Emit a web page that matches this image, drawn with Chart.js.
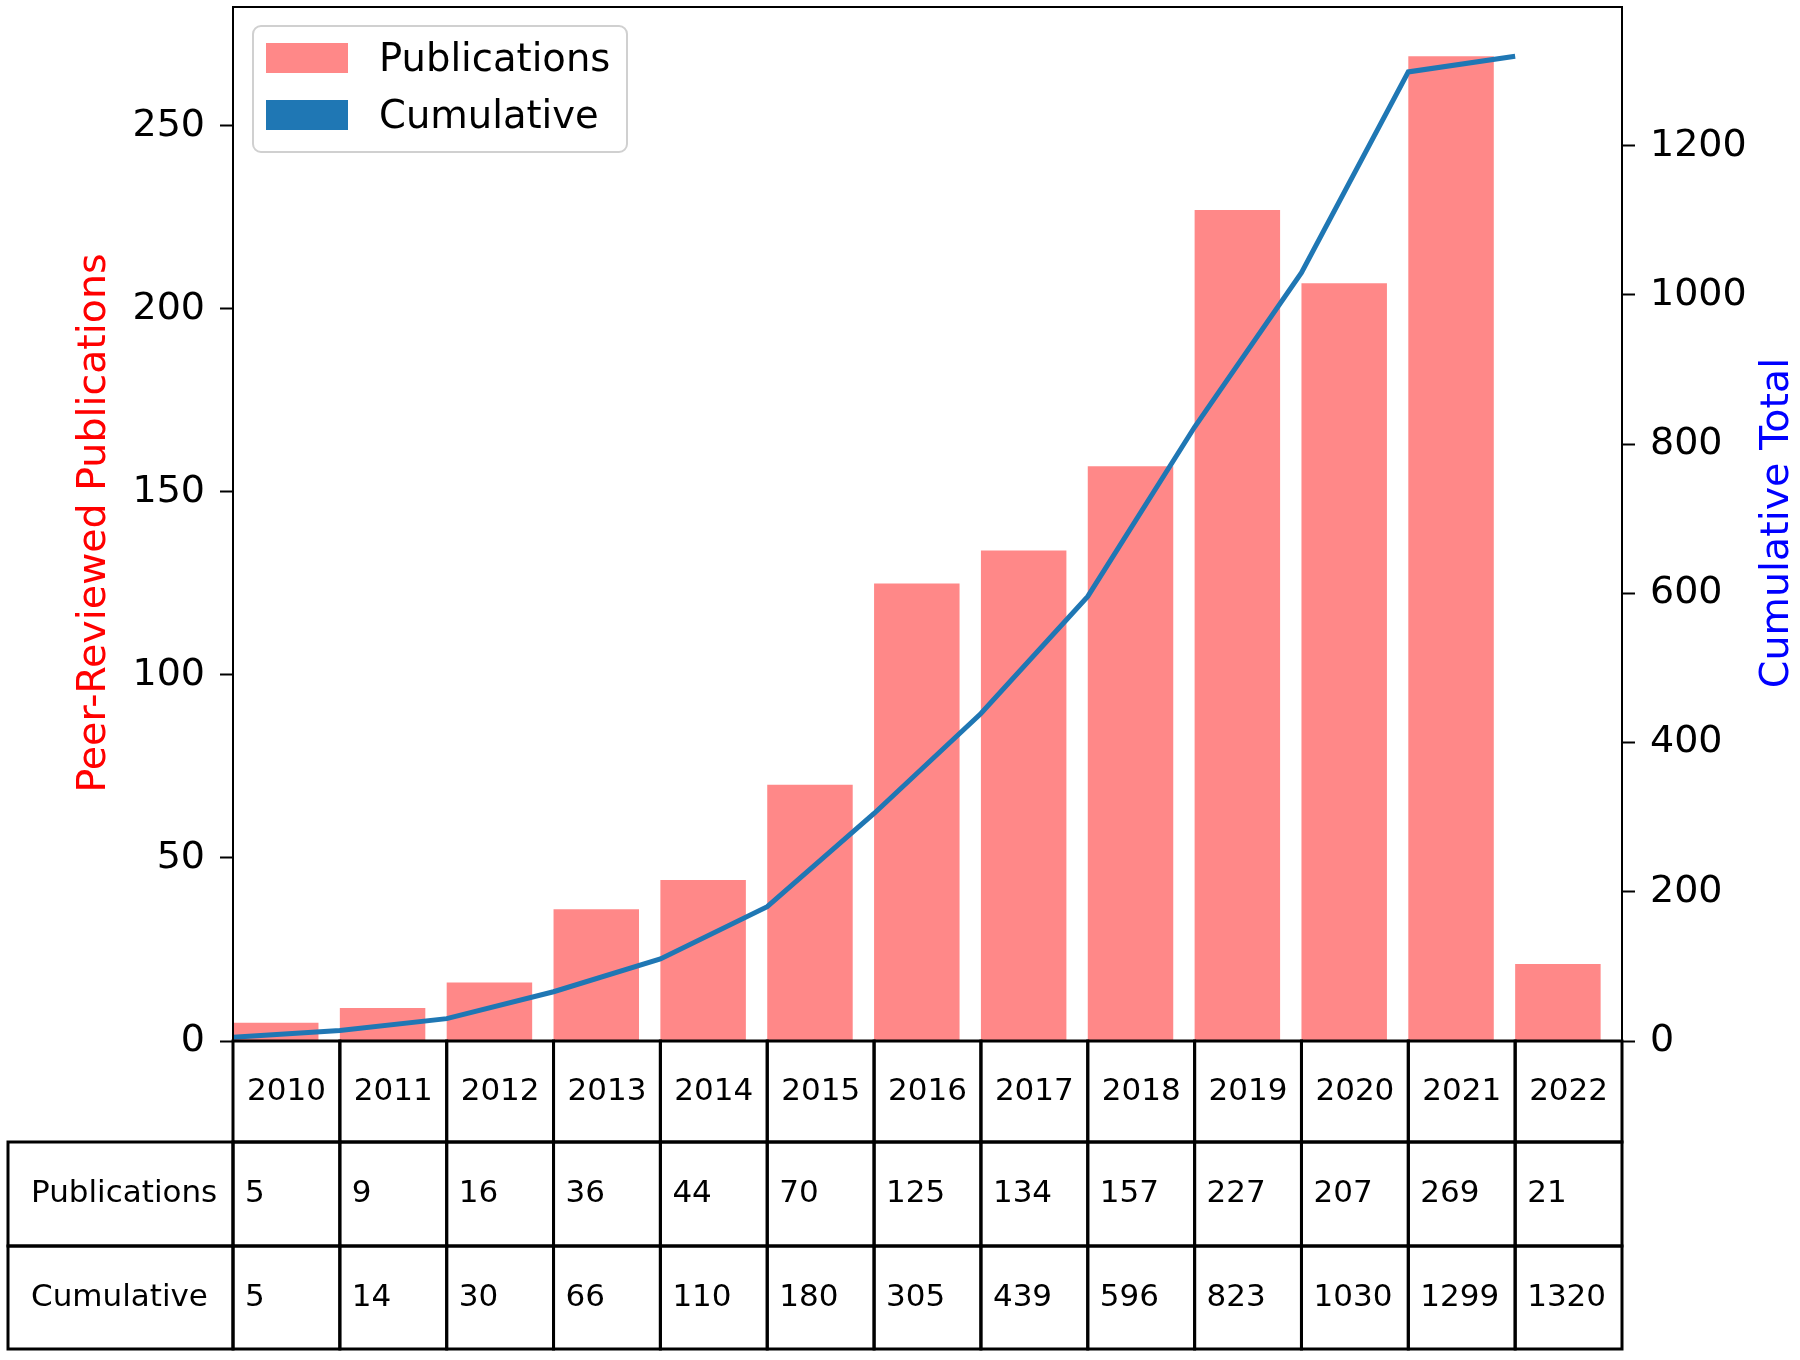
<!DOCTYPE html>
<html>
<head>
<meta charset="utf-8">
<script src="https://cdn.jsdelivr.net/npm/chart.js@4.4.0/dist/chart.umd.min.js"></script>
<style>
  html, body { margin: 0; padding: 0; background: #fff; }
</style>
</head>
<body>
<canvas id="chart" width="1800" height="1360"></canvas>
<script>
const years = ['2010','2011','2012','2013','2014','2015','2016','2017','2018','2019','2020','2021','2022'];
const publications = [5, 9, 16, 36, 44, 70, 125, 134, 157, 227, 207, 269, 21];
const cumulative = [5, 14, 30, 66, 110, 180, 305, 439, 596, 823, 1030, 1299, 1320];
const leftTicks = [0, 50, 100, 150, 200, 250];
const rightTicks = [0, 200, 400, 600, 800, 1000, 1200];
const rowLabels = ['Publications', 'Cumulative'];

const FONT = '"DejaVu Sans", sans-serif';
Chart.defaults.font.family = FONT;
Chart.defaults.font.size = 38;
Chart.defaults.color = '#000';

// table + frame + titles + legend, drawn on top of the chart
const extras = {
  id: 'extras',
  afterDraw(chart) {
    const c = chart.ctx;
    const a = chart.chartArea;
    const x = chart.scales.x;
    c.save();

    // frame
    c.strokeStyle = '#000';
    c.lineWidth = 2;
    c.strokeRect(a.left, a.top, a.right - a.left, a.bottom - a.top);

    // axis titles
    c.font = '39.5px ' + FONT;
    c.textAlign = 'center';
    c.textBaseline = 'middle';
    c.fillStyle = '#ff0000';
    c.save(); c.translate(95, 523); c.rotate(-Math.PI / 2);
    c.fillText('Peer-Reviewed Publications', 0, 0); c.restore();
    c.fillStyle = '#0000ff';
    c.save(); c.translate(1778, 523); c.rotate(-Math.PI / 2);
    c.fillText('Cumulative Total', 0, 0); c.restore();

    // legend
    const lx = 253, ly = 26, lw = 374, lh = 126;
    c.beginPath();
    c.roundRect(lx, ly, lw, lh, 8);
    c.fillStyle = 'rgba(255,255,255,0.8)';
    c.fill();
    c.strokeStyle = '#d0d0d0';
    c.lineWidth = 2;
    c.stroke();
    c.font = '38.5px ' + FONT;
    const items = [chart.data.datasets[1], chart.data.datasets[0]];
    items.forEach((ds, k) => {
      const cy = 58 + k * 57;
      c.fillStyle = ds.type === 'line' ? ds.borderColor : ds.backgroundColor;
      c.fillRect(266, cy - 15, 82, 30);
      c.fillStyle = '#000';
      c.textAlign = 'left';
      c.fillText(ds.label, 379, cy + 3);
    });

    // table
    const rows = [a.bottom, 1142, 1246, 1349];
    c.lineWidth = 3;
    c.strokeStyle = '#000';
    c.font = '31px ' + FONT;
    c.fillStyle = '#000';
    const data = [publications, cumulative];
    years.forEach((yr, i) => {
      const xl = x.getPixelForValue(i);
      const xr = x.getPixelForValue(i + 1);
      for (let r = 0; r < 3; r++) c.strokeRect(xl, rows[r], xr - xl, rows[r + 1] - rows[r]);
      c.textAlign = 'center';
      c.fillText(yr, (xl + xr) / 2, (rows[0] + rows[1]) / 2);
      c.textAlign = 'left';
      data.forEach((arr, r) => {
        c.fillText(String(arr[i]), xl + 12, (rows[r + 1] + rows[r + 2]) / 2);
      });
    });
    rowLabels.forEach((lab, r) => {
      c.strokeRect(8, rows[r + 1], a.left - 8, rows[r + 2] - rows[r + 1]);
      c.textAlign = 'left';
      c.fillText(lab, 31, (rows[r + 1] + rows[r + 2]) / 2);
    });

    c.restore();
  }
};

const yTickOpts = {
  grid: { display: true, drawOnChartArea: false, drawTicks: true, tickLength: 13, tickWidth: 2, tickColor: '#000' },
  border: { display: true, color: '#000', width: 2 },
  ticks: { padding: 15, color: '#000', font: { size: 38 }, callback: v => String(v) },
};

new Chart(document.getElementById('chart'), {
  type: 'bar',
  data: {
    datasets: [
      {
        type: 'line',
        label: 'Cumulative',
        data: cumulative.map((v, i) => ({ x: i, y: v })),
        yAxisID: 'y1',
        borderColor: '#1f77b4',
        borderWidth: 5,
        pointRadius: 0,
        tension: 0,
        fill: false,
        order: 0,
      },
      {
        type: 'bar',
        label: 'Publications',
        data: publications.map((v, i) => ({ x: i + 0.4, y: v })),
        yAxisID: 'y',
        backgroundColor: '#ff8888',
        borderWidth: 0,
        categoryPercentage: 1,
        barPercentage: 0.8,
        order: 1,
      },
    ],
  },
  options: {
    responsive: false,
    animation: false,
    layout: { padding: { left: 0, right: 0, top: 7, bottom: 319 } },
    plugins: { legend: { display: false }, tooltip: { enabled: false } },
    scales: {
      x: {
        type: 'linear',
        offset: false,
        min: 0,
        max: years.length,
        grid: { display: false },
        border: { display: false },
        ticks: { display: false },
        afterBuildTicks: s => { s.ticks = years.map((_, i) => ({ value: i })).concat({ value: years.length }); },
        afterFit: s => { s.height = 0; s.paddingLeft = 0; s.paddingRight = 0; },
      },
      y: {
        ...yTickOpts,
        position: 'left',
        min: 0,
        max: 282.45,
        afterBuildTicks: s => { s.ticks = leftTicks.map(v => ({ value: v })); },
        afterFit: s => { s.width = 233; s.paddingTop = 0; s.paddingBottom = 0; },
      },
      y1: {
        ...yTickOpts,
        position: 'right',
        min: 0,
        max: 1386,
        afterBuildTicks: s => { s.ticks = rightTicks.map(v => ({ value: v })); },
        afterFit: s => { s.width = 178; s.paddingTop = 0; s.paddingBottom = 0; },
      },
    },
  },
  plugins: [extras],
});
</script>
</body>
</html>
